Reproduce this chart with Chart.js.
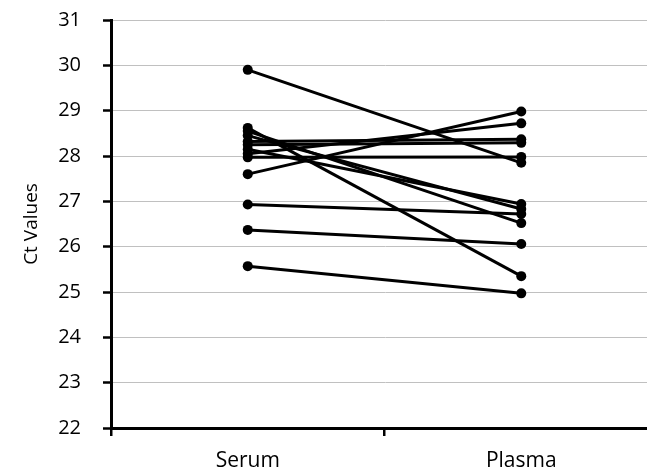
<!DOCTYPE html>
<html>
<head>
<meta charset="utf-8">
<script src="https://cdn.jsdelivr.net/npm/chart.js@4.4.1/dist/chart.umd.min.js"></script>
<style>
html, body { margin: 0; padding: 0; background: #fff; overflow: hidden; }
canvas { display: block; }
</style>
</head>
<body>
<canvas id="myChart" width="663" height="472"></canvas>
<script>
let myLabels = ['Serum', 'Plasma'];

// one entry per sample, serum[i] is joined to plasma[i]
let serumValues  = [29.90, 28.62, 28.55, 28.45, 28.32, 28.25, 28.15, 28.05, 27.97, 27.60, 26.93, 26.37, 25.57];
let plasmaValues = [27.85, 25.35, 26.52, 26.83, 28.37, 28.29, 26.94, 28.72, 27.98, 28.98, 26.72, 26.06, 24.97];

let yMin = 22;
let yMax = 31;

let myDatasets = serumValues.map((s, i) => ({
    label: 'Sample ' + (i + 1),
    data: [s, plasmaValues[i]],
    borderColor: '#000',
    backgroundColor: '#000',
    borderWidth: 3,
    pointRadius: 5,
    pointBorderWidth: 0,
    tension: 0
}));

let ctx = document.getElementById('myChart').getContext('2d');
let myChart = new Chart(ctx, {
    type: 'line',
    data: {
        labels: myLabels,
        datasets: myDatasets
    },
    options: {
        responsive: false,
        animation: false,
        layout: { padding: { top: 20, left: 0, right: 0, bottom: 0 } },
        plugins: {
            legend: { display: false },
            tooltip: { enabled: false }
        },
        scales: {
            x: {
                offset: true,
                afterFit: scale => { scale.height = 44; },
                grid: {
                    offset: true,
                    drawOnChartArea: false,
                    color: '#000',
                    lineWidth: 2.5,
                    tickLength: 8
                },
                border: { color: '#000', width: 3 },
                ticks: {
                    color: '#000',
                    padding: 12,
                    font: { family: 'Open Sans', size: 21 }
                }
            },
            y: {
                min: yMin,
                max: yMax,
                afterFit: scale => {
                    scale.width = 111;
                    scale.paddingTop = 0;
                    scale.paddingBottom = 0;
                },
                grid: {
                    color: '#c0c0c0',
                    lineWidth: 1,
                    tickColor: '#000',
                    tickWidth: 2.5,
                    tickLength: 8
                },
                border: { color: '#000', width: 3 },
                ticks: {
                    stepSize: 1,
                    color: '#000',
                    padding: 22,
                    font: { family: 'Open Sans', size: 20 }
                },
                title: {
                    display: true,
                    text: 'Ct Values',
                    color: '#000',
                    padding: { top: 20, bottom: 0 },
                    font: { family: 'Open Sans', size: 19 }
                }
            }
        }
    }
});
</script>
</body>
</html>
